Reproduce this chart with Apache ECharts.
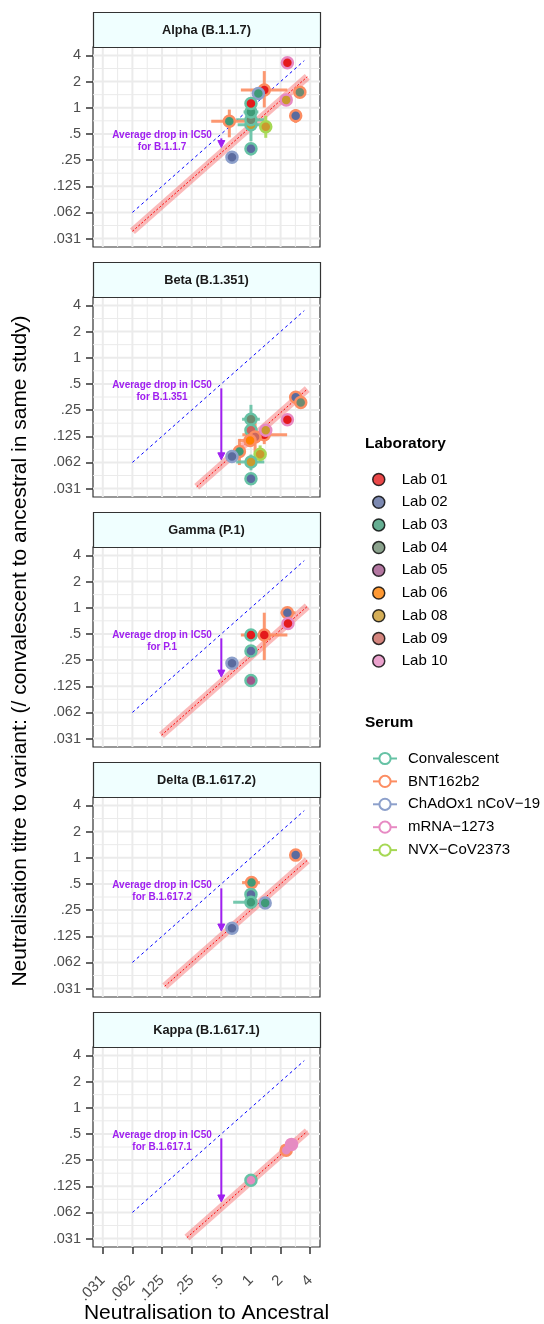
<!DOCTYPE html>
<html><head><meta charset="utf-8">
<script src="https://cdn.jsdelivr.net/npm/echarts@6/dist/echarts.min.js"></script>
<style>html,body{margin:0;padding:0;background:#fff}#c{width:544px;height:1324px}</style>
</head><body><div id="c"></div>
<script>
const FONT = '"Liberation Sans", Arial, Helvetica, sans-serif';

// ---------- data ----------
const variantNames = ['Alpha (B.1.1.7)', 'Beta (B.1.351)', 'Gamma (P.1)', 'Delta (B.1.617.2)', 'Kappa (B.1.617.1)'];
const variantCodes = ['B.1.1.7', 'B.1.351', 'P.1', 'B.1.617.2', 'B.1.617.1'];
// average log2 drop in IC50 (variant vs ancestral)
const avgDropLog2 = [-0.72, -3.1, -1.85, -2.0, -2.8];
// x range (log2) of the fitted average-drop line
const fitStartLog2 = [-4, -1.83, -3.02, -2.91, -2.16];
const fitEndLog2 = [1.9, 1.9, 1.9, 1.9, 1.9];
const identityLog2 = [-4, 1.8];

const tickLog2 = [-5, -4, -3, -2, -1, 0, 1, 2];
const tickLabels = ['.031', '.062', '.125', '.25', '.5', '1', '2', '4'];
const minorLog2 = [-4.5, -3.5, -2.5, -1.5, -0.5, 0.5, 1.5];

const labs = ['Lab 01', 'Lab 02', 'Lab 03', 'Lab 04', 'Lab 05', 'Lab 06', 'Lab 08', 'Lab 09', 'Lab 10'];
const labColors = ['#E41A1C', '#5B6B9E', '#3F9A77', '#6E8B70', '#A0558A', '#FF8000', '#C99A2E', '#C9665E', '#E58BC1'];
const serums = ['Convalescent', 'BNT162b2', 'ChAdOx1 nCoV\u221219', 'mRNA\u22121273', 'NVX\u2212CoV2373'];
const serumColors = ['#66C2A5', '#FC8D62', '#8DA0CB', '#E78AC3', '#A6D854'];

// rows: [lab, serum, x, y, xLo, xHi, yLo, yHi]  (log2 fold units)
const alphaPoints = [
  [0, 3, 1.23, 1.72, 1.23, 1.23, 1.72, 1.72],
  [0, 1, 0.45, 0.68, -0.34, 1.23, 0.01, 1.40],
  [2, 2, 0.25, 0.54, 0.25, 0.25, 0.54, 0.54],
  [6, 0, 0.00, -0.65, -0.45, 0.50, -1.28, 0.32],
  [3, 0, 0.00, -0.46, -0.50, 0.45, -0.75, -0.15],
  [2, 0, 0.00, -0.16, -0.25, 0.25, -0.35, 0.05],
  [0, 0, 0.00, 0.16, -0.20, 0.20, 0.00, 0.34],
  [2, 1, -0.73, -0.52, -1.34, -0.17, -1.13, -0.07],
  [6, 4, 0.50, -0.73, 0.36, 0.64, -1.15, -0.31],
  [1, 0, 0.00, -1.57, -0.18, 0.18, -1.82, -1.35],
  [1, 2, -0.64, -1.89, -0.64, -0.64, -1.89, -1.89],
  [6, 3, 1.19, 0.30, 1.19, 1.19, 0.30, 0.30],
  [3, 1, 1.65, 0.59, 1.52, 1.78, 0.47, 0.71],
  [1, 1, 1.51, -0.31, 1.42, 1.60, -0.58, -0.05]
];
const betaPoints = [
  [1, 1, 1.51, -1.51, 1.38, 1.64, -1.62, -1.40],
  [3, 1, 1.68, -1.71, 1.56, 1.80, -1.83, -1.59],
  [0, 3, 1.23, -2.37, 1.23, 1.23, -2.37, -2.37],
  [3, 0, 0.00, -2.35, -0.30, 0.30, -2.90, -1.80],
  [7, 0, 0.00, -2.77, -0.20, 0.20, -2.77, -2.77],
  [0, 1, 0.45, -2.94, -0.29, 1.22, -3.30, -2.60],
  [7, 1, 0.14, -3.03, 0.14, 0.14, -3.60, -2.50],
  [5, 1, -0.03, -3.16, -0.40, 0.30, -3.16, -3.16],
  [6, 3, 0.50, -2.77, 0.50, 0.50, -2.77, -2.77],
  [2, 1, -0.39, -3.58, -0.39, -0.39, -4.10, -3.10],
  [1, 2, -0.64, -3.77, -0.64, -0.64, -3.77, -3.77],
  [6, 4, 0.31, -3.69, 0.10, 0.50, -4.00, -3.35],
  [6, 0, 0.00, -3.98, -0.50, 0.45, -4.30, -3.70],
  [1, 0, 0.00, -4.62, -0.15, 0.15, -4.80, -4.45]
];
const gammaPoints = [
  [1, 1, 1.23, -0.19, 1.00, 1.50, -0.33, -0.05],
  [0, 3, 1.25, -0.60, 1.25, 1.25, -0.60, -0.60],
  [0, 0, 0.00, -1.04, -0.22, 0.22, -1.22, -0.86],
  [0, 1, 0.45, -1.04, -0.34, 1.23, -2.00, -0.19],
  [1, 0, 0.00, -1.65, -0.20, 0.20, -1.85, -1.45],
  [1, 2, -0.64, -2.12, -0.72, -0.56, -2.25, -1.99],
  [4, 0, 0.00, -2.78, -0.20, 0.20, -2.90, -2.66]
];
const deltaPoints = [
  [1, 1, 1.51, 0.10, 1.45, 1.57, -0.05, 0.25],
  [2, 1, 0.02, -0.95, -0.30, 0.30, -1.10, -0.70],
  [1, 0, 0.00, -1.40, -0.20, 0.20, -1.50, -1.30],
  [2, 0, 0.00, -1.70, -0.60, 0.20, -1.80, -1.60],
  [2, 2, 0.48, -1.73, 0.33, 0.63, -1.88, -1.58],
  [1, 2, -0.64, -2.69, -0.76, -0.52, -2.85, -2.53]
];
const kappaPoints = [
  [8, 0, 0.00, -2.77, -0.12, 0.12, -3.00, -2.54],
  [8, 1, 1.19, -1.62, 1.19, 1.19, -1.62, -1.62],
  [8, 3, 1.37, -1.40, 1.22, 1.52, -1.55, -1.25]
];
const panelPoints = [alphaPoints, betaPoints, gammaPoints, deltaPoints, kappaPoints];

// ---------- layout ----------
const PANEL_LEFT = 93, PANEL_W = 227, STRIP_TOP0 = 12, STRIP_H = 35, PLOT_H = 200, STEP = 250;
const X_MIN = -5.33, X_MAX = 2.33, Y_MIN = -5.32, Y_MAX = 2.32;
const PURPLE = '#A020F0';

const labelFmt = v => tickLabels[Math.round(v) + 5];

const gridLineSpecs = [];
minorLog2.forEach(v => { gridLineSpecs.push([0, v, 0]); gridLineSpecs.push([1, v, 0]); });
tickLog2.forEach(v => { gridLineSpecs.push([0, v, 1]); gridLineSpecs.push([1, v, 1]); });

const grids = [], xAxes = [], yAxes = [], series = [], graphics = [];

for (let k = 0; k < 5; k++) {
  const stripTop = STRIP_TOP0 + STEP * k;
  const plotTop = stripTop + STRIP_H;
  grids.push({ left: PANEL_LEFT, top: plotTop, width: PANEL_W, height: PLOT_H,
    show: true, borderColor: '#333333', borderWidth: 1.2, backgroundColor: '#ffffff' });
  const isBottom = k === 4;
  xAxes.push({ gridIndex: k, type: 'value', min: X_MIN, max: X_MAX, show: isBottom, position: 'bottom',
    axisLine: { show: false, onZero: false }, splitLine: { show: false },
    axisTick: { show: isBottom, inside: false, length: 7, customValues: tickLog2, lineStyle: { color: '#333333', width: 1.5 } },
    axisLabel: { show: isBottom, customValues: tickLog2, formatter: labelFmt, rotate: 45, margin: 31,
      fontSize: 15, color: '#4D4D4D', fontFamily: FONT } });
  yAxes.push({ gridIndex: k, type: 'value', min: Y_MIN, max: Y_MAX, position: 'left',
    axisLine: { show: false, onZero: false }, splitLine: { show: false },
    axisTick: { show: true, inside: false, length: 7, customValues: tickLog2, lineStyle: { color: '#333333', width: 1.5 } },
    axisLabel: { customValues: tickLog2, formatter: labelFmt, margin: 12,
      fontSize: 14.5, color: '#4D4D4D', fontFamily: FONT } });

  // strip
  graphics.push({ type: 'rect', shape: { x: PANEL_LEFT + 0.5, y: stripTop + 0.5, width: PANEL_W, height: STRIP_H },
    style: { fill: '#F0FFFF', stroke: '#333333', lineWidth: 1.2 }, z: 10 });
  graphics.push({ type: 'text', x: PANEL_LEFT + PANEL_W / 2, y: stripTop + STRIP_H / 2 + 0.5, z: 11,
    style: { text: variantNames[k], fill: '#1A1A1A', font: 'bold 12.8px ' + FONT, textAlign: 'center', textVerticalAlign: 'middle' } });

  // grid lines
  series.push({ type: 'custom', xAxisIndex: k, yAxisIndex: k, silent: true, z: 1,
    data: gridLineSpecs.map(() => [0, 0]),
    renderItem: (params, api) => {
      const s = gridLineSpecs[params.dataIndex];
      let p1, p2;
      if (s[0] === 0) { p1 = api.coord([s[1], Y_MIN]); p2 = api.coord([s[1], Y_MAX]); }
      else { p1 = api.coord([X_MIN, s[1]]); p2 = api.coord([X_MAX, s[1]]); }
      return { type: 'line', shape: { x1: p1[0], y1: p1[1], x2: p2[0], y2: p2[1] },
        style: { stroke: '#EBEBEB', lineWidth: s[2] ? 2 : 1 } };
    } });

  // guides: identity line, ribbon, fitted line, arrow, text
  const d = avgDropLog2[k];
  series.push({ type: 'custom', xAxisIndex: k, yAxisIndex: k, silent: true, z: 2,
    data: [[0, 0], [0, 0], [0, 0], [0, 0], [0, 0]],
    renderItem: (params, api) => {
      const i = params.dataIndex;
      if (i === 0) {
        const a = api.coord([identityLog2[0], identityLog2[0]]), b = api.coord([identityLog2[1], identityLog2[1]]);
        return { type: 'line', shape: { x1: a[0], y1: a[1], x2: b[0], y2: b[1] },
          style: { stroke: '#0000FF', lineWidth: 1, lineDash: [3, 3] } };
      }
      const a = api.coord([fitStartLog2[k], fitStartLog2[k] + d]), b = api.coord([fitEndLog2[k], fitEndLog2[k] + d]);
      if (i === 1) {
        return { type: 'line', shape: { x1: a[0], y1: a[1], x2: b[0], y2: b[1] },
          style: { stroke: 'rgba(245,90,90,0.42)', lineWidth: 7.5, lineCap: 'butt' } };
      }
      if (i === 2) {
        return { type: 'line', shape: { x1: a[0], y1: a[1], x2: b[0], y2: b[1] },
          style: { stroke: '#FF0000', lineWidth: 1, lineDash: [2, 2] } };
      }
      if (i === 3) {
        const s = api.coord([-1, -1.17]), e = api.coord([-1, -1 + d + 0.2]);
        const hl = 7, hw = 3.5;
        return { type: 'group', children: [
          { type: 'line', shape: { x1: s[0], y1: s[1], x2: e[0], y2: e[1] - hl + 1 },
            style: { stroke: PURPLE, lineWidth: 2 } },
          { type: 'polygon', shape: { points: [[e[0], e[1]], [e[0] - hw, e[1] - hl], [e[0] + hw, e[1] - hl]] },
            style: { fill: PURPLE, stroke: PURPLE, lineWidth: 1 } }
        ] };
      }
      const c = api.coord([-3, -1.06]);
      return { type: 'group', children: [
        { type: 'text', x: c[0], y: c[1], style: { text: 'Average drop in IC50', fill: PURPLE,
          font: 'bold 10px ' + FONT, textAlign: 'center', textVerticalAlign: 'middle' } },
        { type: 'text', x: c[0], y: c[1] + 12, style: { text: 'for ' + variantCodes[k], fill: PURPLE,
          font: 'bold 10px ' + FONT, textAlign: 'center', textVerticalAlign: 'middle' } }
      ] };
    } });

  // error bars
  const pts = panelPoints[k];
  series.push({ type: 'custom', xAxisIndex: k, yAxisIndex: k, silent: true, z: 3,
    data: pts.map(p => [p[2], p[3]]),
    renderItem: (params, api) => {
      const p = pts[params.dataIndex];
      const col = serumColors[p[1]];
      const children = [];
      if (p[5] - p[4] > 0.01) {
        const a = api.coord([p[4], p[3]]), b = api.coord([p[5], p[3]]);
        children.push({ type: 'line', shape: { x1: a[0], y1: a[1], x2: b[0], y2: b[1] },
          style: { stroke: col, lineWidth: 3, opacity: 0.9 } });
      }
      if (p[7] - p[6] > 0.01) {
        const a = api.coord([p[2], p[6]]), b = api.coord([p[2], p[7]]);
        children.push({ type: 'line', shape: { x1: a[0], y1: a[1], x2: b[0], y2: b[1] },
          style: { stroke: col, lineWidth: 3, opacity: 0.9 } });
      }
      return { type: 'group', children };
    } });

  // points
  series.push({ type: 'scatter', name: 'pts' + k, xAxisIndex: k, yAxisIndex: k, z: 4, symbol: 'circle', symbolSize: 11,
    silent: true,
    data: pts.map(p => ({ value: [p[2], p[3]],
      itemStyle: { color: labColors[p[0]], borderColor: serumColors[p[1]], borderWidth: 2.5, opacity: 1 } })) });
}

// legend helper series
labs.forEach((name, i) => series.push({ type: 'scatter', name, data: [], xAxisIndex: 0, yAxisIndex: 0,
  symbol: 'circle', itemStyle: { color: labColors[i], borderColor: '#000000', borderWidth: 1.5 } }));
serums.forEach((name, i) => series.push({ type: 'line', name, data: [], xAxisIndex: 0, yAxisIndex: 0,
  symbol: 'emptyCircle', symbolSize: 10, itemStyle: { color: serumColors[i] },
  lineStyle: { color: serumColors[i], width: 3 } }));

// titles
graphics.push({ type: 'text', x: PANEL_LEFT + PANEL_W / 2, y: 1313,
  style: { text: 'Neutralisation to Ancestral', fill: '#000', font: '21px ' + FONT, textAlign: 'center', textVerticalAlign: 'middle' } });
graphics.push({ type: 'text', x: 20, y: 651, rotation: Math.PI / 2,
  style: { text: 'Neutralisation titre to variant: (/ convalescent to ancestral in same study)', fill: '#000',
    font: '21px ' + FONT, textAlign: 'center', textVerticalAlign: 'middle' } });
graphics.push({ type: 'text', x: 365, y: 444,
  style: { text: 'Laboratory', fill: '#000', font: 'bold 15.5px ' + FONT, textAlign: 'left', textVerticalAlign: 'middle' } });
graphics.push({ type: 'text', x: 365, y: 723,
  style: { text: 'Serum', fill: '#000', font: 'bold 15.5px ' + FONT, textAlign: 'left', textVerticalAlign: 'middle' } });

const chart = echarts.init(document.getElementById('c'), null, { renderer: 'canvas' });
chart.setOption({
  animation: false,
  backgroundColor: '#ffffff',
  grid: grids, xAxis: xAxes, yAxis: yAxes, series,
  legend: [
    { data: labs, orient: 'vertical', left: 367, top: 467, itemWidth: 24, itemHeight: 12, itemGap: 7.7,
      icon: 'circle', selectedMode: false,
      itemStyle: { borderColor: '#000000', borderWidth: 1.5 },
      textStyle: { fontSize: 15, color: '#000', fontFamily: FONT, padding: [0, 0, 0, 6] } },
    { data: serums, orient: 'vertical', left: 367, top: 746, itemWidth: 24, itemHeight: 14, itemGap: 7.9,
      selectedMode: false,
      textStyle: { fontSize: 15, color: '#000', fontFamily: FONT, padding: [0, 0, 0, 6] } }
  ],
  graphic: graphics
});
</script></body></html>
